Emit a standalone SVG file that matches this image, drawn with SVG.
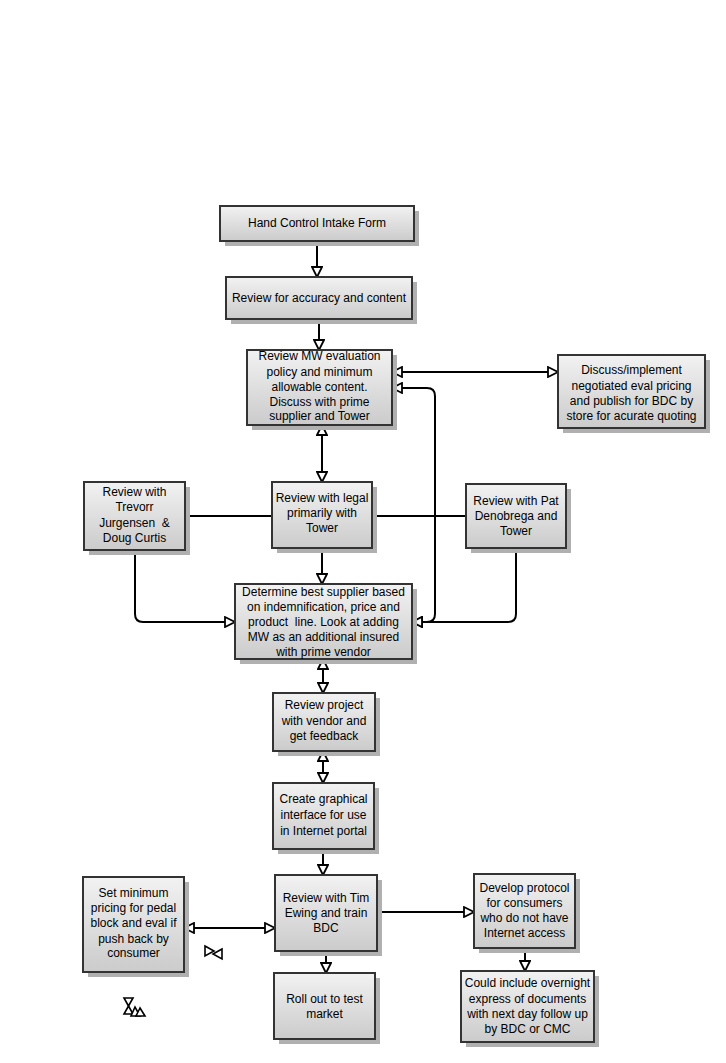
<svg xmlns="http://www.w3.org/2000/svg" width="726" height="1063" viewBox="0 0 726 1063">
<defs>
<linearGradient id="g" x1="0" y1="0" x2="0" y2="1">
<stop offset="0" stop-color="#f2f2f2"/>
<stop offset="1" stop-color="#cbcbcb"/>
</linearGradient>
<marker id="ah" viewBox="0 0 12 12" refX="11" refY="6" markerWidth="12" markerHeight="12" markerUnits="userSpaceOnUse" orient="auto-start-reverse">
<path d="M1,1 L11,6 L1,11 Z" fill="#fff" stroke="#000" stroke-width="1.8"/>
</marker>
<style>
.sh{fill:#b0b0b0}
.bx{fill:url(#g);stroke:#333;stroke-width:2}
.t{font-family:"Liberation Sans",Arial,sans-serif;font-size:12px;fill:#000;text-anchor:middle}
.c{fill:none;stroke:#000;stroke-width:2}
.a{marker-end:url(#ah)}
.b{marker-start:url(#ah);marker-end:url(#ah)}
.st{fill:#fff;stroke:#000;stroke-width:1.6}
</style>
</defs>
<rect width="726" height="1063" fill="#fff"/>
<g id="connectors">
<path class="c a" d="M317,242 V277"/>
<path class="c a" d="M319,319 V350"/>
<path class="c b" d="M392,372 H558"/>
<path class="c b" d="M392,388 H427 Q435,388 435,396 V614 Q435,622 427,622 H412"/>
<path class="c b" d="M322,425 V482"/>
<path class="c" d="M185,516 H272"/>
<path class="c" d="M372,516 H466"/>
<path class="c a" d="M322,548 V584"/>
<path class="c a" d="M135,550 V614 Q135,622 143,622 H235"/>
<path class="c a" d="M516,548 V614 Q516,622 508,622 H412"/>
<path class="c b" d="M323,659 V693"/>
<path class="c b" d="M323,751 V783"/>
<path class="c a" d="M323,849 V875"/>
<path class="c b" d="M184,928 H275"/>
<path class="c a" d="M377,912 H474"/>
<path class="c a" d="M525,948 V971"/>
<path class="c a" d="M326,951 V973"/>
<polygon class="st" points="205,946 214,951 205,956"/>
<polygon class="st" points="222,949 213,954 222,959"/>
<polygon class="st" points="124,998 133,998 128.5,1006"/>
<polygon class="st" points="128.5,1006 124,1014 133,1014"/>
<polygon class="st" points="135,1007 131,1016 140,1016"/>
<polygon class="st" points="140,1008 136,1016 145,1016"/>
</g>
<g id="n1"><rect class="sh" x="225" y="211" width="194" height="35"/><rect class="bx" x="220" y="206" width="194" height="35"/><text class="t" x="317" y="227">Hand Control Intake Form</text></g>
<g id="n2"><rect class="sh" x="231" y="282" width="186" height="42"/><rect class="bx" x="226" y="277" width="186" height="42"/><text class="t" x="319" y="302">Review for accuracy and content</text></g>
<g id="n3"><rect class="sh" x="252" y="355" width="145" height="75"/><rect class="bx" x="247" y="350" width="145" height="75"/><text class="t" x="319.5" y="360">Review MW evaluation</text><text class="t" x="319.5" y="376">policy and minimum</text><text class="t" x="319.5" y="391">allowable content.</text><text class="t" x="319.5" y="406">Discuss with prime</text><text class="t" x="319.5" y="420">supplier and Tower</text></g>
<g id="n4"><rect class="sh" x="563" y="360" width="147" height="73"/><rect class="bx" x="558" y="355" width="147" height="73"/><text class="t" x="631.5" y="374">Discuss/implement</text><text class="t" x="631.5" y="390">negotiated eval pricing</text><text class="t" x="631.5" y="405">and publish for BDC by</text><text class="t" x="631.5" y="420">store for acurate quoting</text></g>
<g id="n5"><rect class="sh" x="89" y="487" width="101" height="68"/><rect class="bx" x="84" y="482" width="101" height="68"/><text class="t" x="134.5" y="496">Review with</text><text class="t" x="134.5" y="511">Trevorr</text><text class="t" x="134.5" y="527" xml:space="preserve">Jurgensen  &amp;</text><text class="t" x="134.5" y="542">Doug Curtis</text></g>
<g id="n6"><rect class="sh" x="277" y="487" width="100" height="66"/><rect class="bx" x="272" y="482" width="100" height="66"/><text class="t" x="322" y="502">Review with legal</text><text class="t" x="322" y="517">primarily with</text><text class="t" x="322" y="532">Tower</text></g>
<g id="n7"><rect class="sh" x="471" y="489" width="100" height="64"/><rect class="bx" x="466" y="484" width="100" height="64"/><text class="t" x="516" y="505">Review with Pat</text><text class="t" x="516" y="520">Denobrega and</text><text class="t" x="516" y="535">Tower</text></g>
<g id="n8"><rect class="sh" x="240" y="589" width="177" height="75"/><rect class="bx" x="235" y="584" width="177" height="75"/><text class="t" x="323.5" y="596">Determine best supplier based</text><text class="t" x="323.5" y="611">on indemnification, price and</text><text class="t" x="323.5" y="626" xml:space="preserve">product  line. Look at adding</text><text class="t" x="323.5" y="641">MW as an additional insured</text><text class="t" x="323.5" y="656">with prime vendor</text></g>
<g id="n9"><rect class="sh" x="278" y="698" width="102" height="58"/><rect class="bx" x="273" y="693" width="102" height="58"/><text class="t" x="324" y="709">Review project</text><text class="t" x="324" y="725">with vendor and</text><text class="t" x="324" y="740">get feedback</text></g>
<g id="n10"><rect class="sh" x="278" y="788" width="101" height="66"/><rect class="bx" x="273" y="783" width="101" height="66"/><text class="t" x="323.5" y="803">Create graphical</text><text class="t" x="323.5" y="819">interface for use</text><text class="t" x="323.5" y="835">in Internet portal</text></g>
<g id="n11"><rect class="sh" x="88" y="882" width="101" height="95"/><rect class="bx" x="83" y="877" width="101" height="95"/><text class="t" x="133.5" y="897">Set minimum</text><text class="t" x="133.5" y="912">pricing for pedal</text><text class="t" x="133.5" y="927">block and eval if</text><text class="t" x="133.5" y="943">push back by</text><text class="t" x="133.5" y="957">consumer</text></g>
<g id="n12"><rect class="sh" x="280" y="880" width="102" height="76"/><rect class="bx" x="275" y="875" width="102" height="76"/><text class="t" x="326" y="902">Review with Tim</text><text class="t" x="326" y="917">Ewing and train</text><text class="t" x="326" y="932">BDC</text></g>
<g id="n13"><rect class="sh" x="479" y="879" width="101" height="74"/><rect class="bx" x="474" y="874" width="101" height="74"/><text class="t" x="524.5" y="892">Develop protocol</text><text class="t" x="524.5" y="907">for consumers</text><text class="t" x="524.5" y="922">who do not have</text><text class="t" x="524.5" y="937">Internet access</text></g>
<g id="n14"><rect class="sh" x="279" y="978" width="101" height="66"/><rect class="bx" x="274" y="973" width="101" height="66"/><text class="t" x="324.5" y="1003">Roll out to test</text><text class="t" x="324.5" y="1018">market</text></g>
<g id="n15"><rect class="sh" x="466" y="976" width="133" height="71"/><rect class="bx" x="461" y="971" width="133" height="71"/><text class="t" x="527.5" y="987">Could include overnight</text><text class="t" x="527.5" y="1003">express of documents</text><text class="t" x="527.5" y="1018">with next day follow up</text><text class="t" x="527.5" y="1033">by BDC or CMC</text></g>
</svg>
